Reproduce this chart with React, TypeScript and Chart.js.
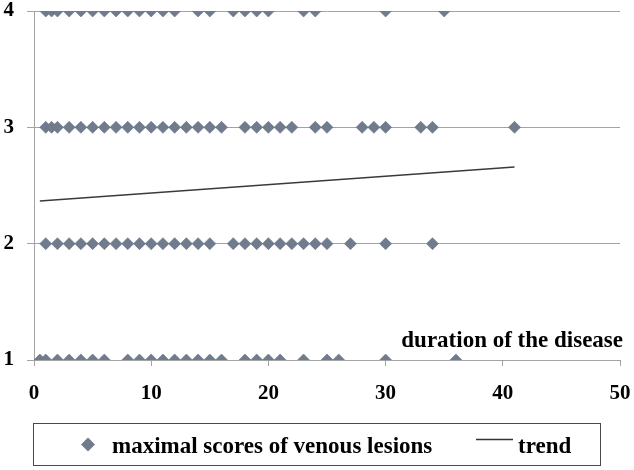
import React, { useEffect, useRef } from "react";
import { Chart, registerables } from "chart.js";

Chart.register(...registerables);

// ---- data ----
const xTickValues = [0, 10, 20, 30, 40, 50];
const yTickValues = [1, 2, 3, 4];
const durationsScore4 = [1, 1.5, 2, 3, 4, 5, 6, 7, 8, 9, 10, 11, 12, 14, 15, 17, 18, 19, 20, 23, 24, 30, 35];
const durationsScore3 = [1, 1.5, 2, 3, 4, 5, 6, 7, 8, 9, 10, 11, 12, 13, 14, 15, 16, 18, 19, 20, 21, 22, 24, 25, 28, 29, 30, 33, 34, 41];
const durationsScore2 = [1, 2, 3, 4, 5, 6, 7, 8, 9, 10, 11, 12, 13, 14, 15, 17, 18, 19, 20, 21, 22, 23, 24, 25, 27, 30, 34];
const durationsScore1 = [0.5, 1, 2, 3, 4, 5, 6, 8, 9, 10, 11, 12, 13, 14, 15, 16, 18, 19, 20, 21, 23, 25, 26, 30, 36];
const trendX = [0.5, 41];
const trendY = [2.366, 2.659];

const seriesLabel = "maximal scores of venous lesions";
const trendLabel = "trend";
const xAxisTitle = "duration of the disease";

const FONT = '"Liberation Serif", "Times New Roman", serif';
const POINT_COLOR = "rgb(112,123,139)";
const GRID = "#a3a3a3";

function buildScatter() {
  const pts: { x: number; y: number }[] = [];
  durationsScore4.forEach((x) => pts.push({ x, y: 4 }));
  durationsScore3.forEach((x) => pts.push({ x, y: 3 }));
  durationsScore2.forEach((x) => pts.push({ x, y: 2 }));
  durationsScore1.forEach((x) => pts.push({ x, y: 1 }));
  return pts;
}

const overlayPlugin = {
  id: "overlay",
  afterDraw(chart: any) {
    const ctx = chart.ctx as CanvasRenderingContext2D;
    const area = chart.chartArea;
    const yScale = chart.scales.y;
    ctx.save();
    // axis title inside plot
    ctx.font = `bold 23px ${FONT}`;
    ctx.fillStyle = "#000";
    ctx.textAlign = "right";
    ctx.textBaseline = "alphabetic";
    ctx.fillText(xAxisTitle, area.right + 3, yScale.getPixelForValue(1) - 13);

    // legend box
    const boxL = 33.5, boxT = 423.5, boxW = 567, boxH = 42;
    ctx.strokeStyle = "#4a4a4a";
    ctx.lineWidth = 1;
    ctx.strokeRect(boxL, boxT, boxW, boxH);
    const cy = boxT + boxH / 2;
    // diamond marker
    const dx = 88, r = 7;
    ctx.beginPath();
    ctx.moveTo(dx - r, cy);
    ctx.lineTo(dx, cy - r);
    ctx.lineTo(dx + r, cy);
    ctx.lineTo(dx, cy + r);
    ctx.closePath();
    ctx.fillStyle = POINT_COLOR;
    ctx.fill();
    ctx.font = `bold 23px ${FONT}`;
    ctx.fillStyle = "#000";
    ctx.textAlign = "left";
    ctx.fillText(seriesLabel, 112, cy + 8);
    // trend sample line
    ctx.beginPath();
    ctx.moveTo(476, cy - 5);
    ctx.lineTo(513, cy - 5);
    ctx.strokeStyle = "#333";
    ctx.lineWidth = 1.3;
    ctx.stroke();
    ctx.fillText(trendLabel, 518, cy + 8);
    ctx.restore();
  },
};

function zeroPadding(s: any) {
  s.paddingTop = 0;
  s.paddingBottom = 0;
  s.paddingLeft = 0;
  s.paddingRight = 0;
}

export default function App() {
  const ref = useRef<HTMLCanvasElement | null>(null);
  useEffect(() => {
    if (!ref.current) return;
    const chart = new Chart(ref.current, {
      type: "scatter",
      data: {
        datasets: [
          {
            type: "line",
            label: trendLabel,
            data: trendX.map((x, i) => ({ x, y: trendY[i] })),
            borderColor: "#3a3a3a",
            borderWidth: 1.5,
            pointRadius: 0,
            showLine: true,
            fill: false,
          } as any,
          {
            label: seriesLabel,
            data: buildScatter(),
            pointStyle: "rectRot",
            pointRadius: 6,
            backgroundColor: POINT_COLOR,
            borderColor: "rgb(100,115,145)",
            borderWidth: 0.6,
          },
        ],
      },
      options: {
        responsive: false,
        animation: false,
        devicePixelRatio: 1,
        layout: { padding: { top: 11, right: 14, left: 0, bottom: 0 } },
        plugins: { legend: { display: false }, tooltip: { enabled: false } },
        scales: {
          x: {
            type: "linear",
            min: 0,
            max: 50,
            afterBuildTicks: (s: any) => {
              s.ticks = xTickValues.map((v) => ({ value: v }));
            },
            ticks: {
              font: { family: FONT, size: 21, weight: "bold" },
              color: "#000",
              padding: 15,
              maxRotation: 0,
            },
            grid: { drawOnChartArea: false, drawTicks: true, tickLength: 6, color: GRID },
            border: { display: true, color: GRID },
            afterFit: (s: any) => {
              s.height = 110;
              zeroPadding(s);
            },
          },
          y: {
            type: "linear",
            min: 1,
            max: 4,
            afterBuildTicks: (s: any) => {
              s.ticks = yTickValues.map((v) => ({ value: v }));
            },
            ticks: {
              font: { family: FONT, size: 21, weight: "bold" },
              color: "#000",
              padding: 13,
            },
            grid: { color: GRID, tickLength: 7 },
            border: { display: true, color: GRID },
            afterFit: (s: any) => {
              s.width = 34;
              zeroPadding(s);
            },
          },
        },
      },
      plugins: [overlayPlugin],
    });
    return () => chart.destroy();
  }, []);
  return (
    <div style={{ position: "fixed", left: 0, top: 0, width: 634, height: 470, background: "#fff" }}>
      <canvas ref={ref} width={634} height={470} />
    </div>
  );
}
